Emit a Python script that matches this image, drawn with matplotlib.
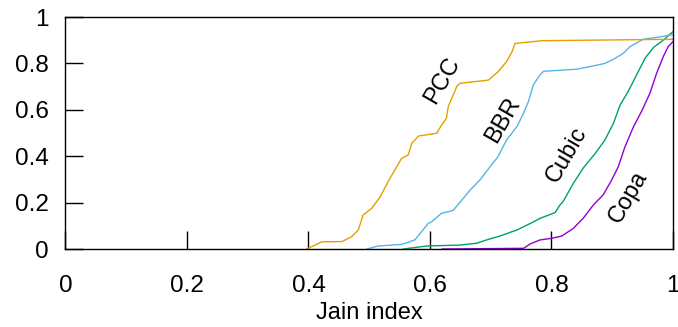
import matplotlib
matplotlib.use("Agg")
import matplotlib.pyplot as plt

plt.rcParams['font.family'] = ['Liberation Sans', 'DejaVu Sans']

# CDF of Jain index per congestion control
pcc_x = [0.397, 0.422, 0.455, 0.471, 0.482, 0.490, 0.504, 0.518, 0.531, 0.542,
         0.553, 0.564, 0.570, 0.581, 0.611, 0.619, 0.627, 0.630, 0.644, 0.649,
         0.696, 0.712, 0.726, 0.735, 0.740, 0.781, 0.787, 1.0]
pcc_y = [0.0, 0.031, 0.032, 0.053, 0.082, 0.147, 0.175, 0.225, 0.290, 0.340,
         0.390, 0.405, 0.455, 0.487, 0.499, 0.534, 0.563, 0.613, 0.700, 0.714,
         0.728, 0.764, 0.807, 0.850, 0.886, 0.897, 0.898, 0.904]

bbr_x = [0.496, 0.515, 0.553, 0.562, 0.575, 0.584, 0.597, 0.603, 0.619, 0.638,
         0.649, 0.666, 0.682, 0.699, 0.712, 0.726, 0.743, 0.754, 0.762, 0.770,
         0.781, 0.787, 0.841, 0.863, 0.888, 0.902, 0.918, 0.929, 0.951, 0.973,
         1.0]
bbr_y = [0.0, 0.013, 0.020, 0.027, 0.039, 0.068, 0.110, 0.118, 0.154, 0.166,
         0.200, 0.254, 0.297, 0.355, 0.398, 0.470, 0.527, 0.585, 0.635, 0.707,
         0.750, 0.766, 0.775, 0.786, 0.800, 0.818, 0.843, 0.872, 0.904, 0.912,
         0.924]

cubic_x = [0.556, 0.595, 0.649, 0.677, 0.693, 0.715, 0.743, 0.765, 0.781, 0.806,
           0.814, 0.819, 0.836, 0.852, 0.872, 0.888, 0.902, 0.913, 0.926, 0.940,
           0.954, 0.968, 0.984, 1.0]
cubic_y = [0.0, 0.013, 0.017, 0.025, 0.039, 0.056, 0.082, 0.110, 0.132, 0.157,
           0.190, 0.204, 0.283, 0.348, 0.412, 0.470, 0.542, 0.621, 0.678, 0.750,
           0.822, 0.869, 0.900, 0.937]

copa_x = [0.620, 0.754, 0.765, 0.781, 0.800, 0.817, 0.836, 0.852, 0.869, 0.885,
          0.899, 0.910, 0.921, 0.935, 0.948, 0.962, 0.973, 0.984, 0.992, 1.0]
copa_y = [0.0, 0.003, 0.022, 0.039, 0.046, 0.056, 0.089, 0.132, 0.190, 0.233,
          0.297, 0.355, 0.441, 0.527, 0.592, 0.671, 0.757, 0.829, 0.872, 0.894]

series = [
    ("Copa", copa_x, copa_y, "#9400D3", (0.926, 0.224)),
    ("Cubic", cubic_x, cubic_y, "#009E73", (0.825, 0.405)),
    ("BBR", bbr_x, bbr_y, "#56B4E9", (0.720, 0.556)),
    ("PCC", pcc_x, pcc_y, "#E69F00", (0.621, 0.728)),
]

fig = plt.figure(figsize=(6.78, 3.27), dpi=100)
ax = fig.add_axes([0.0966, 0.2385, 0.896, 0.7095])

for name, xs, ys, col, pos in series:
    ax.plot(xs, ys, color=col, lw=1.0)
    ax.text(pos[0], pos[1], name, rotation=60, fontsize=17,
            ha="center", va="center", rotation_mode="anchor")

ax.set_xlim(0, 1)
ax.set_ylim(0, 1)
ax.set_xticks([0, 0.2, 0.4, 0.6, 0.8, 1])
ax.set_xticklabels(["0", "0.2", "0.4", "0.6", "0.8", "1"])
ax.set_yticks([0, 0.2, 0.4, 0.6, 0.8, 1])
ax.set_yticklabels(["0", "0.2", "0.4", "0.6", "0.8", "1"])
ax.tick_params(axis="both", direction="in", length=13, width=1.0,
               labelsize=17.5, top=False, right=False)
ax.tick_params(axis="x", pad=19)
ax.tick_params(axis="y", pad=12)
ax.set_xlabel("Jain index", fontsize=17, labelpad=3)
for s in ax.spines.values():
    s.set_linewidth(1.0)

fig.savefig("out.png", dpi=100)
